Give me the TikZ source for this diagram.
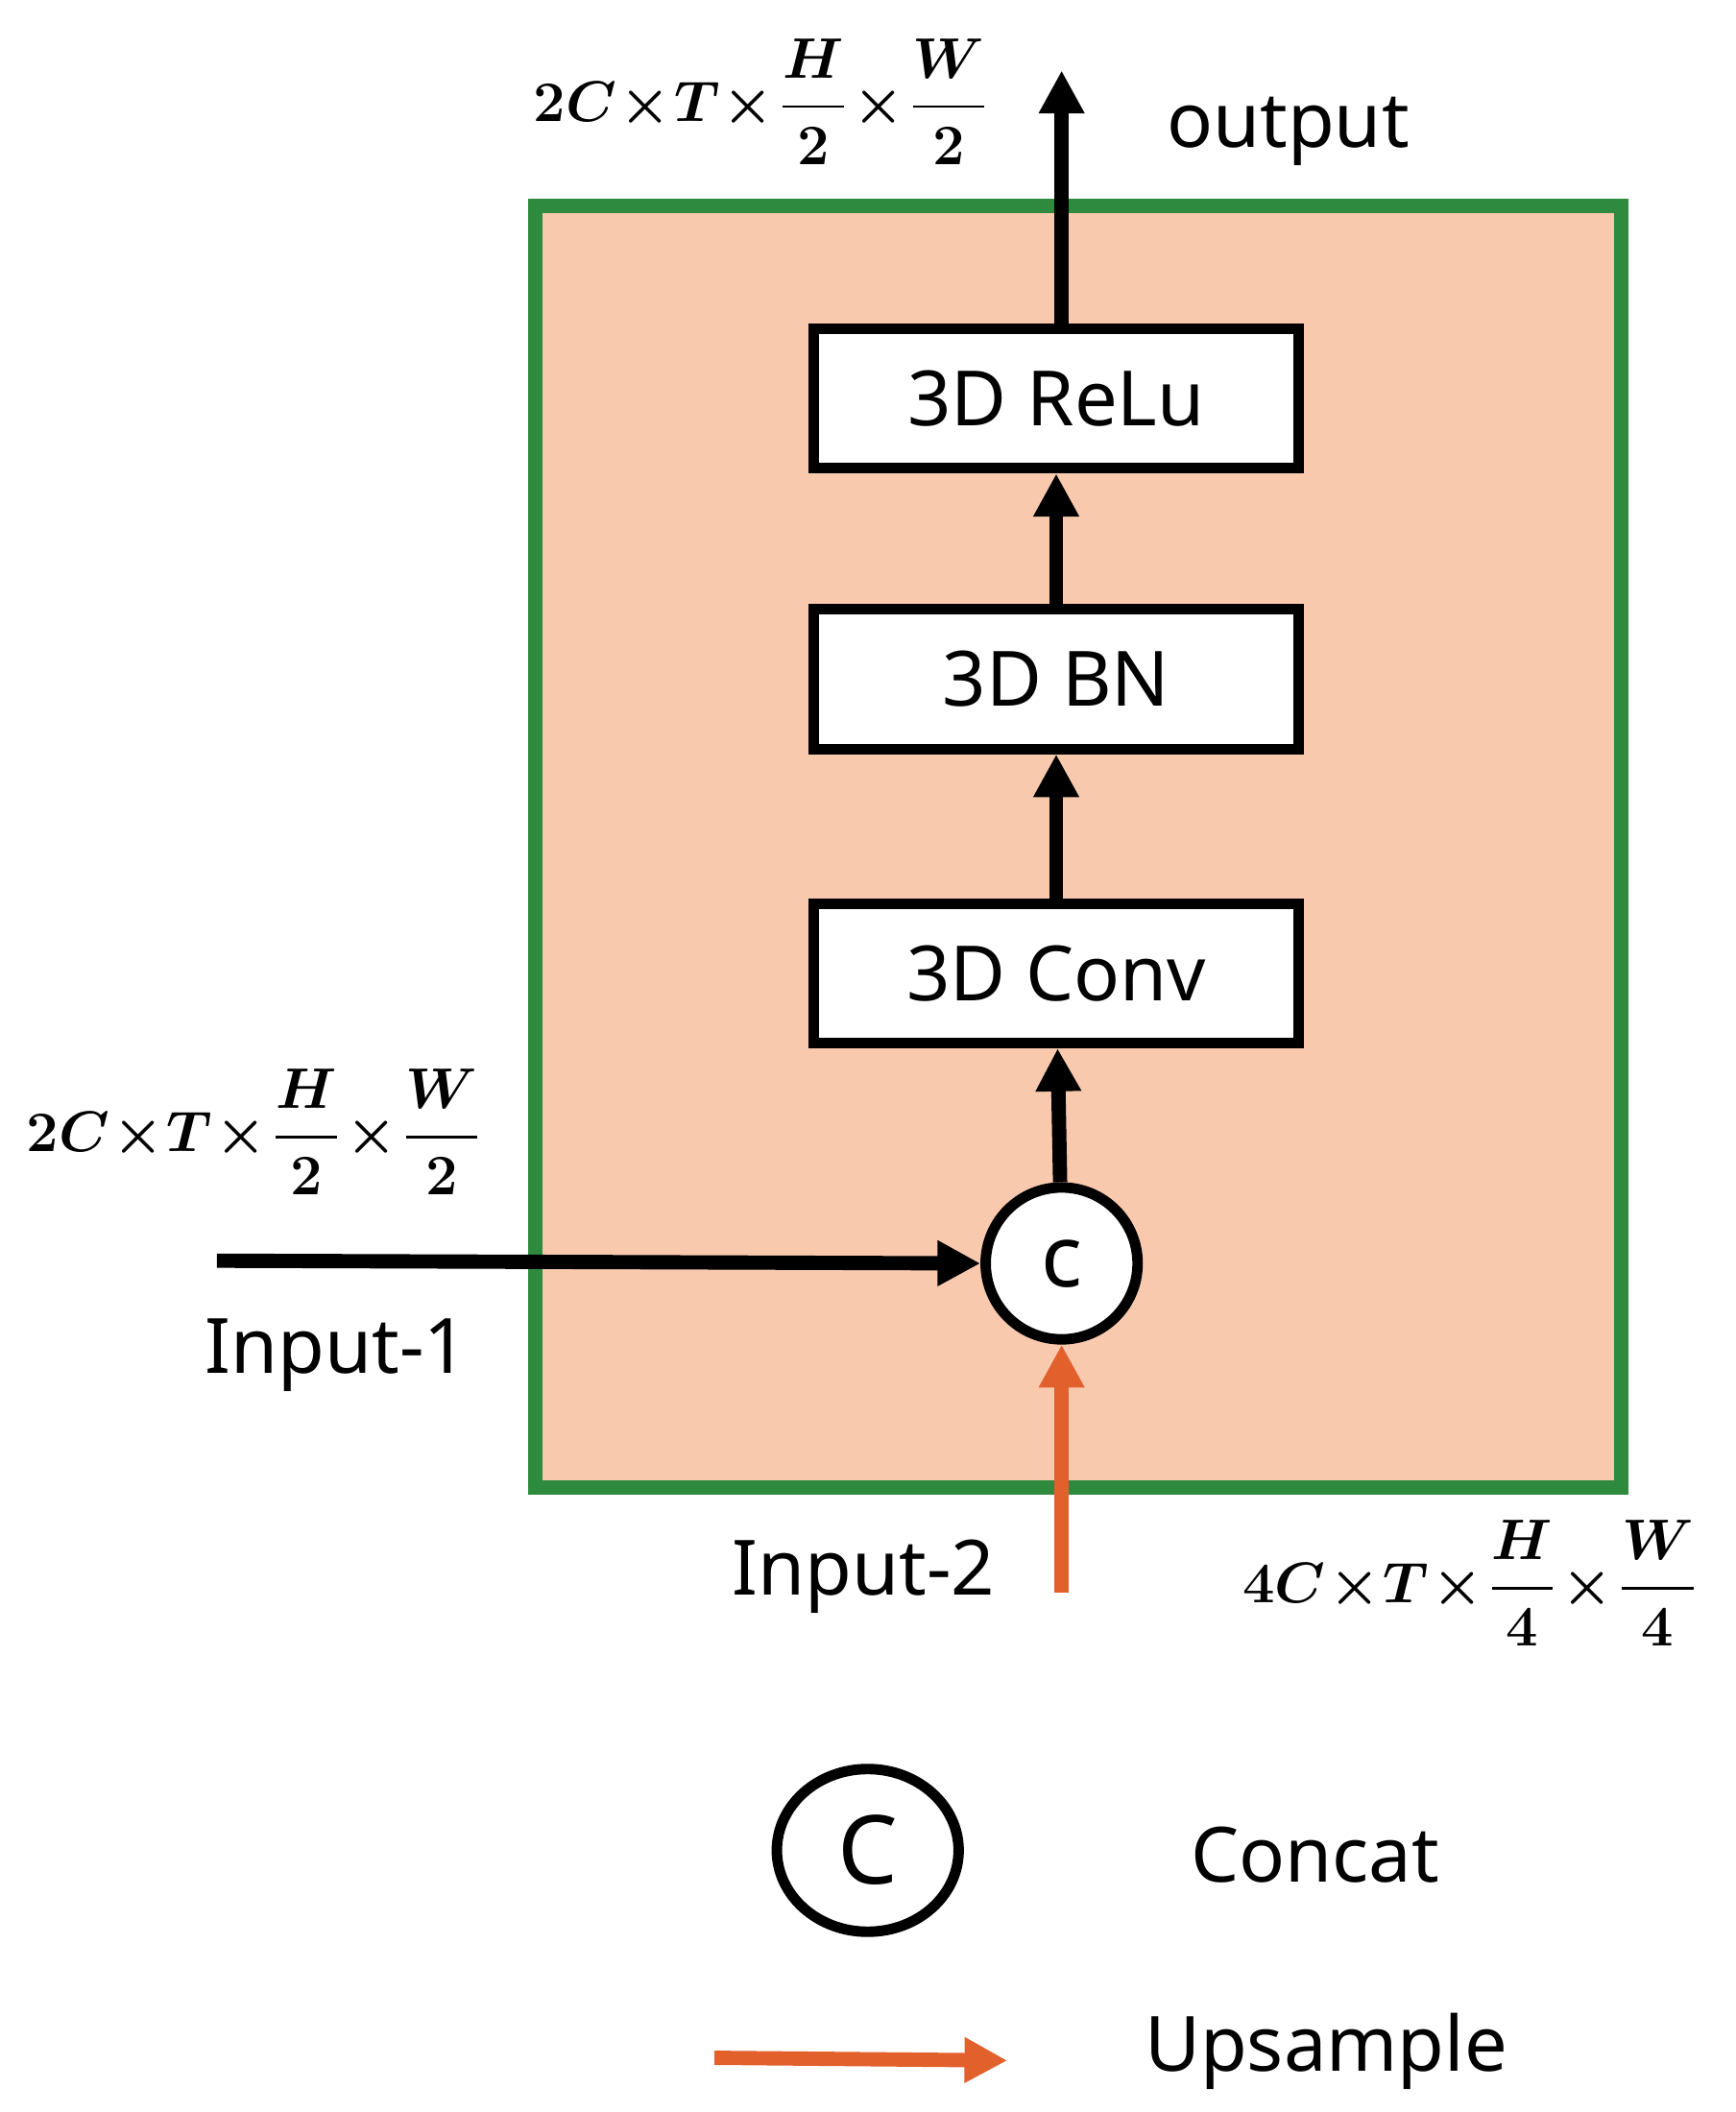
\documentclass[tikz,border=0pt]{standalone}
\usepackage{amsmath,bm}
\usepackage{fontspec}
\setmainfont{Noto Sans}
\usetikzlibrary{arrows.meta,shapes.geometric}
\definecolor{peach}{HTML}{F9C9AE}
\definecolor{grn}{HTML}{2E8B3E}
\definecolor{org}{HTML}{E2602C}
\newcommand{\tms}{\!\times\!}
\begin{document}
\begin{tikzpicture}[x=0.01cm,y=-0.01cm,
 box/.style={draw,line width=2.2pt,fill=white,minimum width=3.58cm,minimum height=1.03cm,font=\fontsize{16}{19}\selectfont},
 arr/.style={line width=3pt,-{Triangle[length=9pt,width=9pt]}},
 lbl/.style={font=\fontsize{16}{19}\selectfont},
 mth/.style={font=\fontsize{12}{15}\selectfont}]
\useasboundingbox (0,0) rectangle (1280,1558);
\draw[grn,line width=3pt,fill=peach] (395,152) rectangle (1196,1097);
\node[box] (relu) at (779,294) {3D ReLu};
\node[box] (bn) at (779,501) {3D BN};
\node[box] (conv) at (779,718) {3D Conv};
\node[draw,circle,line width=2.2pt,fill=white,minimum size=1.12cm,font=\fontsize{18}{20}\selectfont\bfseries] (cat) at (783,932) {c};
\coordinate (out) at (783,52);
\coordinate (in1) at (160,930);
\coordinate (in2) at (783,1175);
\draw[arr] (cat) -- (conv);
\draw[arr] (conv) -- (bn);
\draw[arr] (bn) -- (relu);
\draw[arr] (relu.north -| out) -- (out);
\draw[arr] (in1) -- (cat.west);
\draw[arr,org] (in2) -- (cat.south);
\node[mth] (m1) at (562,75) {$\bm{2C\tms T\tms \dfrac{H}{2}\tms\dfrac{W}{2}}$};
\node[lbl] (o) at (950,97) {output};
\node[mth] (m2) at (188,835) {$\bm{2C\tms T\tms \dfrac{H}{2}\tms\dfrac{W}{2}}$};
\node[lbl] (i1) at (248,1000) {Input-1};
\node[lbl] (i2) at (637,1163) {Input-2};
\node[mth] (m3) at (1085,1168) {$\bm{4C\tms T\tms \dfrac{H}{4}\tms\dfrac{W}{4}}$};
\node[draw,ellipse,line width=2.2pt,minimum width=1.34cm,minimum height=1.2cm,font=\fontsize{20}{22}\selectfont] (lc) at (640,1365) {C};
\node[lbl] (lct) at (970,1368) {Concat};
\coordinate (ua) at (527,1518);
\coordinate (ub) at (743,1520);
\draw[arr,org] (ua) -- (ub);
\node[lbl] (up) at (978,1513) {Upsample};
\end{tikzpicture}
\end{document}
